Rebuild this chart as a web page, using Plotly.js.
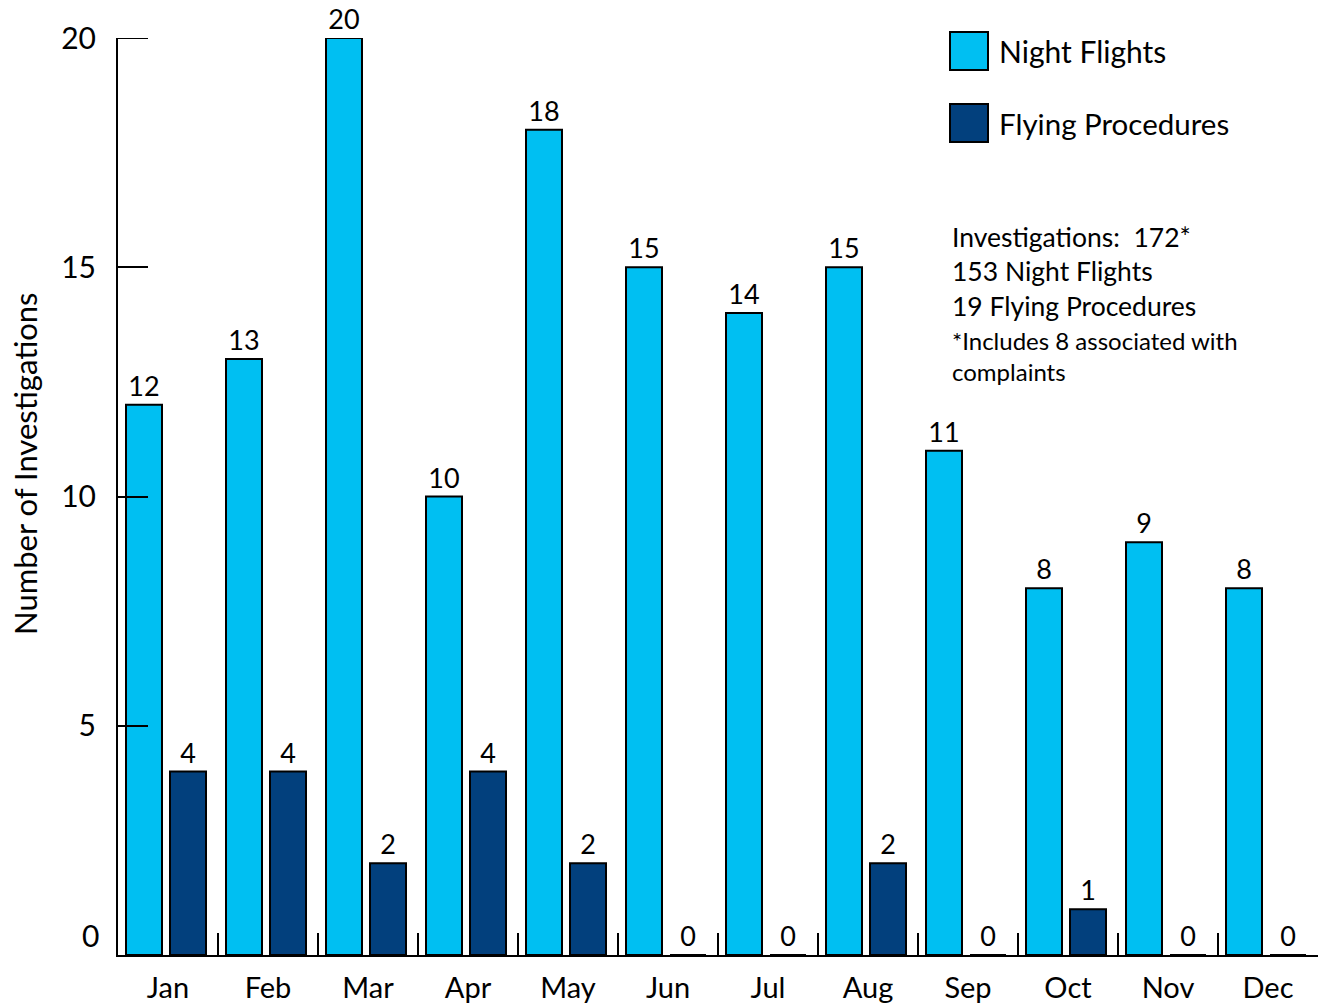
<!DOCTYPE html>
<html>
<head>
<meta charset="utf-8">
<script src="https://cdn.plot.ly/plotly-3.0.1.min.js"></script>
<style>html,body{margin:0;padding:0;background:#fff;}#chart{width:1325px;height:1007px;}</style>
</head>
<body>
<div id="chart"></div>
<script>
var months = ["Jan","Feb","Mar","Apr","May","Jun","Jul","Aug","Sep","Oct","Nov","Dec"];
var nightFlights = [12,13,20,10,18,15,14,15,11,8,9,8];
var flyingProcedures = [4,4,2,4,2,0,0,2,0,1,0,0];
var seriesNames = ["Night Flights","Flying Procedures"];
var seriesColors = ["#00bff2","#02407d"];
var yTicks = [5,10,15,20];
var noteLines = ["Investigations:  172*","153 Night Flights","19 Flying Procedures"];
var footLines = ["*Includes 8 associated with","complaints"];

var W = 1325, H = 1007;
var M = {l:118, r:7, t:38, b:52};
var PW = W - M.l - M.r, PH = H - M.t - M.b;
function px(x){ return (x - M.l)/PW; }
function py(y){ return (H - M.b - y)/PH; }

var FONT = "Lato, 'Noto Sans', sans-serif";

var traces = [
  {type:"bar", x:months, y:nightFlights, name:seriesNames[0],
   marker:{color:seriesColors[0], line:{color:"#000", width:2}},
   width:0.36, offset:-0.42,
   text:nightFlights.map(String), textposition:"outside", cliponaxis:false,
   textfont:{family:FONT, size:27, color:"#000"}, showlegend:false, hoverinfo:"x+y"},
  {type:"bar", x:months, y:flyingProcedures, name:seriesNames[1],
   marker:{color:seriesColors[1], line:{color:"#000", width:2}},
   width:0.36, offset:0.02,
   text:flyingProcedures.map(String), textposition:"outside", cliponaxis:false,
   textfont:{family:FONT, size:27, color:"#000"}, showlegend:false, hoverinfo:"x+y"}
];

var shapes = [
  {type:"rect", xref:"paper", yref:"paper", x0:px(950), x1:px(988), y0:py(70), y1:py(32),
   fillcolor:seriesColors[0], line:{color:"#000", width:2}},
  {type:"rect", xref:"paper", yref:"paper", x0:px(950), x1:px(988), y0:py(142), y1:py(104),
   fillcolor:seriesColors[1], line:{color:"#000", width:2}},
  {type:"line", xref:"paper", yref:"y", x0:0, x1:px(148), y0:20, y1:20,
   line:{color:"#000", width:2}}
];

var annotations = [
  {xref:"paper", yref:"paper", x:px(997), y:py(51), xanchor:"left", yanchor:"middle",
   text:seriesNames[0], showarrow:false, font:{family:FONT, size:30, color:"#000"}},
  {xref:"paper", yref:"paper", x:px(997), y:py(123), xanchor:"left", yanchor:"middle",
   text:seriesNames[1], showarrow:false, font:{family:FONT, size:29.5, color:"#000"}},
  {xref:"paper", yref:"paper", x:px(950), y:py(219), xanchor:"left", yanchor:"top", align:"left",
   text:noteLines.join("<br>"), showarrow:false, font:{family:FONT, size:26.5, color:"#000"}},
  {xref:"paper", yref:"paper", x:px(950), y:py(324), xanchor:"left", yanchor:"top", align:"left",
   text:footLines.join("<br>"), showarrow:false, font:{family:FONT, size:24, color:"#000"}},
  {xref:"paper", yref:"y", x:0, y:0, xshift:-17, xanchor:"right", yanchor:"bottom",
   text:"0", showarrow:false, font:{family:FONT, size:30, color:"#000"}},
  {xref:"paper", yref:"paper", x:0, xshift:-93, y:py(464), xanchor:"center", yanchor:"middle",
   text:"Number of Investigations", textangle:-90, showarrow:false,
   font:{family:FONT, size:31, color:"#000"}}
];

var layout = {
  width:W, height:H,
  margin:{l:M.l, r:M.r, t:M.t, b:M.b, pad:0},
  paper_bgcolor:"#fff", plot_bgcolor:"#fff",
  barmode:"group",
  showlegend:false,
  font:{family:FONT, color:"#000"},
  xaxis:{type:"category", range:[-0.5,11.5], showline:true, linecolor:"#000", linewidth:2,
    ticks:"inside", tickson:"boundaries", ticklen:22, tickwidth:2, tickcolor:"#000",
    showgrid:false, zeroline:false, ticklabelstandoff:6,
    tickfont:{family:FONT, size:29, color:"#000"}},
  yaxis:{range:[0,20], showline:true, linecolor:"#000", linewidth:2,
    ticks:"inside", ticklen:30, tickwidth:2, tickcolor:"#000",
    tickvals:yTicks, ticktext:yTicks.map(String), ticklabelstandoff:14,
    showgrid:false, zeroline:false,
    tickfont:{family:FONT, size:30, color:"#000"}},
  shapes:shapes,
  annotations:annotations
};

Plotly.newPlot("chart", traces, layout, {displayModeBar:false, staticPlot:true});
</script>
</body>
</html>
